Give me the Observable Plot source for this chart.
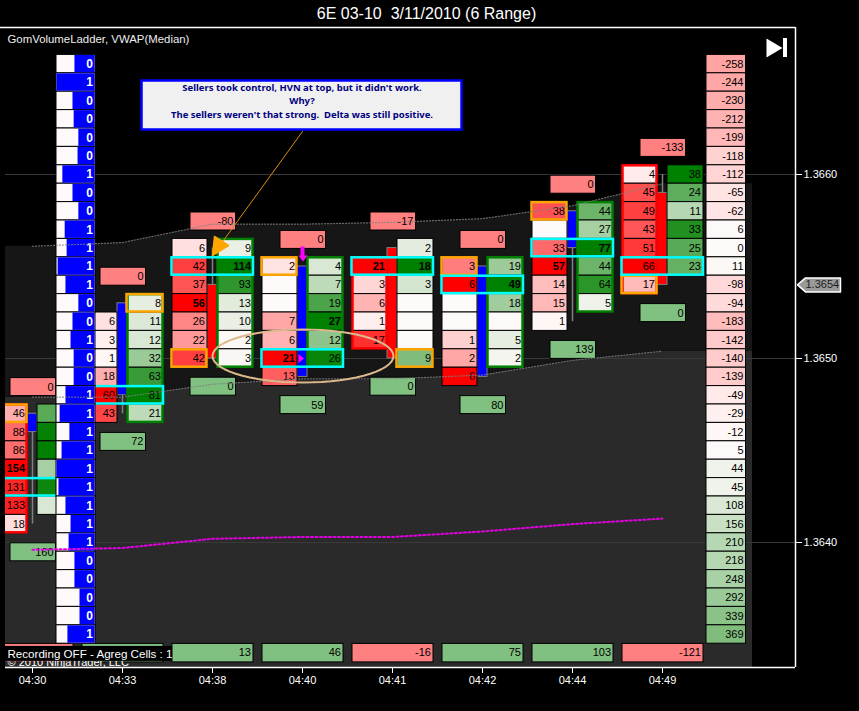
<!DOCTYPE html>
<html>
<head>
<meta charset="utf-8">
<style>html,body{margin:0;padding:0;background:#000;overflow:hidden}svg{display:block}</style>
<script src="https://cdn.jsdelivr.net/npm/d3@7"></script>
<script src="https://cdn.jsdelivr.net/npm/@observablehq/plot@0.6"></script>
</head>
<body>
<script>
const times = ["04:30","04:33","04:38","04:40","04:41","04:42","04:44","04:49"];
const priceTicks = [1.3660,1.3650,1.3640];
const lastPrice = 1.3654;

const bid0430 = [46,88,86,154,131,133,18];
const ask0430 = [65,98,100,35,95,15];
const bid0433 = [6,3,1,18,60,43];
const ask0433 = [8,11,12,32,63,81,21];
const bid0438 = [6,42,37,56,26,22,42];
const ask0438 = [9,114,93,13,10,2,3];
const bid0440 = [2,null,null,7,6,21,13];
const ask0440 = [4,7,19,27,12,26];
const bid0441 = [21,3,6,1,17];
const ask0441 = [2,18,3,null,null,null,9];
const bid0442 = [3,6,null,null,1,2,6];
const ask0442 = [19,49,18,null,5,2];
const bid0444 = [38,null,33,57,14,15,1];
const ask0444 = [44,27,77,44,64,5];
const bid0449 = [4,45,49,43,51,66,17];
const ask0449 = [38,24,11,33,25,23];

const bidTop = [1.3647,1.3652,1.3656,1.3655,1.3655,1.3655,1.3658,1.3660];
const askTop = [1.3647,1.3653,1.3656,1.3655,1.3656,1.3655,1.3658,1.3660];
const pocPrice = [1.3643,1.3648,1.3655,1.3650,1.3655,1.3654,1.3656,1.3655];
const closeMarked = [[0,"bid",1.3647],[1,"ask",1.3653],[2,"bid",1.3650],[3,"bid",1.3655],[4,"ask",1.3650],[5,"bid",1.3655],[6,"bid",1.3658],[7,"bid",1.3654]];
const greenColumns = [1,2,3,5,6];
const redColumns = [0,4,7];
const boldCells = ["0b154","2b56","2a114","3b21","3a27","4b21","4a18","5a49","6a77","6b57"];

const barOpen  = [1.3646,1.3648,1.3654,1.3649,1.3656,1.3649,1.3656,1.3659];
const barClose = [1.3647,1.3653,1.3650,1.3655,1.3650,1.3655,1.3658,1.3654];
const barHigh  = [1.3647,1.3653,1.3656,1.3655,1.3656,1.3655,1.3658,1.3660];
const barLow   = [1.3641,1.3647,1.3650,1.3649,1.3650,1.3649,1.3652,1.3654];

const deltaAbove = [0,0,-80,0,-17,0,0,-133];
const deltaBelow = [160,72,0,59,0,80,139,0];
const deltaBar   = [-27,40,13,46,-16,75,103,-121];

const ladderCount = [0,1,0,0,0,0,1,0,0,1,1,1,1,0,0,1,0,0,1,1,1,1,1,1,1,1,1,0,0,0,0,1];
const ladderWhiteShare = [46,0,41,44,56,54,15,41,56,21,26,3,23,56,41,36,44,44,23,8,33,13,0,5,23,36,31,46,46,59,59,28];
const ladderDelta = [-258,-244,-230,-212,-199,-118,-112,-65,-62,6,0,11,-98,-94,-183,-142,-140,-139,-49,-29,-12,5,44,45,108,156,210,218,248,292,339,369];
const ladderTop = 1.3666;

const bandUpper = [1.36561,1.36563,1.36573,1.36573,1.36574,1.36576,1.36583,1.36595];
const bandLower = [1.36479,1.36479,1.36486,1.36489,1.36489,1.36491,1.36499,1.36504];
const vwap      = [1.36396,1.36397,1.36402,1.36403,1.36403,1.36406,1.36410,1.36413];

const noteLines = ["Sellers took control, HVN at top, but it didn't work.","Why?","The sellers weren't that strong.  Delta was still positive."];

// scale helpers: offsets in screen pixels relative to a bar slot or a price level
const tick = 0.0001, pxX = 1/90, pxY = 1/184000;
const at = (i, off=0) => i + off*pxX;
const py = (p, off=0) => p - off*pxY;
const xLeft = at(0,-27), xRight = at(8,43), yTop = py(1.366,-147), yBottom = py(1.366,493);
const font = "'Liberation Sans'";
const bidLists = [bid0430,bid0433,bid0438,bid0440,bid0441,bid0442,bid0444,bid0449];
const askLists = [ask0430,ask0433,ask0438,ask0440,ask0441,ask0442,ask0444,ask0449];
const bars = d3.range(8);
const toRed = d3.interpolateRgb("#fffafa","#ff0000");
const toGreen = d3.interpolateRgb("#fffafa","#008000");
const sideX = {bid:[-40,-5],ask:[5,41]};

function column(i, side, list, top){
  const mx = d3.max(list);
  return list.map((v,k)=>({i,side,v,price:+(top-k*tick).toFixed(4),
    fill: v==null ? "#fffafa" : (side==="bid"?toRed:toGreen)(v/mx),
    bold: boldCells.includes(i+side[0]+v)}));
}
const cells = bars.flatMap(i=>[...column(i,"bid",bidLists[i],bidTop[i]),...column(i,"ask",askLists[i],askTop[i])]);
// the first bar's ask numbers lie hidden behind the left ladder, so they get no text
const valued = cells.filter(d=>d.v!=null && !(d.i===0 && d.side==="ask"));

const cellRect = (data,opts)=>Plot.rect(data,{
  x1:d=>at(d.i,sideX[d.side][0]), x2:d=>at(d.i,sideX[d.side][1]),
  y1:d=>d.price+tick/2, y2:d=>d.price-tick/2, clip:"frame", ...opts});
const colFrame = (list,side,stroke)=>Plot.rect(list,{
  x1:i=>at(i,sideX[side][0]), x2:i=>at(i,sideX[side][1]),
  y1:i=>(side==="ask"?askTop:bidTop)[i]+tick/2,
  y2:i=>(side==="ask"?askTop:bidTop)[i]-(((side==="ask"?askLists:bidLists)[i].length)-0.5)*tick,
  fill:"none",stroke,strokeWidth:2.5,inset:0.5,clip:"frame"});
const deltaColor = v=>v<0?"#ff8080":"#80c080";
const barTop = i=>Math.max(bidTop[i],askTop[i]);
const barBottom = i=>Math.min(bidTop[i]-(bidLists[i].length-1)*tick,askTop[i]-(askLists[i].length-1)*tick);
const aboveY = i=>py(barTop(i),-26.6), belowY = i=>py(barBottom(i),28.2);
const ladderRows = ladderDelta.map((v,k)=>({k,v,price:ladderTop-k*tick,count:ladderCount[k],white:ladderWhiteShare[k],
  fill:(v<0?toRed:toGreen)(Math.abs(v)/738)}));
const rowBox = (data,x1,x2,fill,extra={})=>Plot.rect(data,{x1,x2,y1:d=>d.price+tick/2,y2:d=>d.price-tick/2,fill,...extra});

const poly = (pts,opts)=>Plot.line([...pts,pts[0]],{x:"0",y:"1",...opts});
const ellipsePts = d3.range(0,366,6).map(a=>[at(3,0.5)+90.5*pxX*Math.cos(a*Math.PI/180), py(1.365,-2.5)+26.5*pxY*Math.sin(a*Math.PI/180)]);
const bandRows = [{x:xLeft,u:bandUpper[0],l:bandLower[0]},...bars.map(i=>({x:i,u:bandUpper[i],l:bandLower[i]})),{x:at(8,0),u:bandUpper[7],l:bandLower[7]}];
const txt = (arr,opts)=>Plot.text(arr,{fontFamily:font,fontSize:11,fill:"#000",...opts});

const chart = Plot.plot({
  width:859,height:711,marginLeft:5,marginRight:64,marginTop:27,marginBottom:44,
  x:{type:"linear",domain:[xLeft,xRight]},
  y:{type:"linear",domain:[yBottom,yTop]},
  color:{type:"identity"},
  style:{background:"#000",fontFamily:font,fontSize:"11px",whiteSpace:"pre",overflow:"visible"},
  marks:[
    // backdrop bands
    Plot.area(bandRows,{x1:"x",y1:"l",y2:()=>yBottom,fill:"#2a2a2a"}),
    Plot.area(bandRows,{x1:"x",y1:"u",y2:"l",fill:"#161616"}),
    Plot.ruleY(priceTicks,{stroke:"#3a3a3a",strokeWidth:1}),
    // candles
    Plot.ruleX(bars,{x:i=>i,y1:i=>barHigh[i],y2:i=>barLow[i],stroke:"#808080",strokeWidth:1.5}),
    Plot.rect(bars,{x1:i=>at(i,-5),x2:i=>at(i,5),y1:i=>barOpen[i],y2:i=>barClose[i],
      fill:i=>barClose[i]>barOpen[i]?"#0000ff":"#ff0000",stroke:"#808080",strokeWidth:1}),
    // footprint cells
    cellRect(cells,{fill:"fill",stroke:"#000",strokeWidth:1}),
    colFrame(greenColumns,"ask","#008000"),
    colFrame(redColumns,"bid","#ff0000"),
    txt(valued.filter(d=>!d.bold),{x:d=>at(d.i,d.side==="bid"?-7.5:38.5),y:"price",text:"v",textAnchor:"end"}),
    txt(valued.filter(d=>d.bold),{x:d=>at(d.i,d.side==="bid"?-7.5:38.5),y:"price",text:"v",textAnchor:"end",fontWeight:"bold"}),
    Plot.rect(closeMarked,{x1:d=>at(d[0],sideX[d[1]][0]-1),x2:d=>at(d[0],sideX[d[1]][1]),y1:d=>d[2]+tick/2,y2:d=>d[2]-tick/2,
      fill:"none",stroke:"#ffa500",strokeWidth:2.5,inset:0.5,clip:"frame"}),
    Plot.rect(bars,{x1:i=>at(i,-41),x2:i=>at(i,41.5),y1:i=>pocPrice[i]+tick/2,y2:i=>pocPrice[i]-tick/2,
      fill:"none",stroke:"#00ffff",strokeWidth:2.5,inset:0.5,clip:"frame"}),
    // delta boxes above and below
    Plot.rect(bars,{x1:i=>at(i,-22),x2:i=>at(i,23.5),y1:i=>py(aboveY(i),-9),y2:i=>py(aboveY(i),9),fill:"#ff8080",stroke:"#000"}),
    txt(bars,{x:i=>at(i,21),y:aboveY,text:i=>deltaAbove[i],textAnchor:"end"}),
    Plot.rect(bars,{x1:i=>at(i,-22),x2:i=>at(i,23.5),y1:i=>py(belowY(i),-9),y2:i=>py(belowY(i),9),fill:"#80c080",stroke:"#000"}),
    txt(bars,{x:i=>at(i,21),y:belowY,text:i=>deltaBelow[i],textAnchor:"end"}),
    Plot.rect(bars,{x1:i=>at(i,-40),x2:i=>at(i,41),y1:()=>py(1.3634,-9),y2:()=>py(1.3634,9.5),fill:i=>deltaColor(deltaBar[i]),stroke:"#000",clip:"frame"}),
    // the first two bars' numbers here lie hidden behind the status label
    txt(bars.slice(2),{x:i=>at(i,38.5),y:()=>1.3634,text:i=>deltaBar[i],textAnchor:"end"}),
    // left ladder
    rowBox(ladderRows,()=>at(0,24),()=>at(0,63),"#fffafa",{stroke:"#000"}),
    rowBox(ladderRows,d=>at(0,24+0.39*d.white),()=>at(0,63),"#0000ff",{inset:0.5}),
    txt(ladderRows,{x:()=>at(0,60.5),y:"price",text:"count",textAnchor:"end",fill:"#fff",fontWeight:"bold",fontSize:12}),
    // right ladder
    rowBox(ladderRows,()=>at(8,-46),()=>at(8,-6.5),"fill",{stroke:"#000"}),
    txt(ladderRows,{x:()=>at(8,-9),y:"price",text:"v",textAnchor:"end"}),
    // VWAP lines
    Plot.line(bars,{x:i=>i,y:i=>bandUpper[i],stroke:"#808080",strokeOpacity:0.8,strokeWidth:1.2,strokeDasharray:"1,2"}),
    Plot.line(bars,{x:i=>i,y:i=>bandLower[i],stroke:"#808080",strokeOpacity:0.8,strokeWidth:1.2,strokeDasharray:"1,2"}),
    Plot.line(bars,{x:i=>i,y:i=>vwap[i],stroke:"#e000e0",strokeWidth:2,strokeDasharray:"2,2.5"}),
    // annotations
    Plot.line([[at(3,0),py(1.366,-43)],[at(2,11),py(1.366,66)]],{x:"0",y:"1",stroke:"#d98f0f",strokeWidth:1}),
    poly([[at(2,2),py(1.366,62)],[at(2,16),py(1.366,71)],[at(2,0),py(1.366,81)]],{fill:"#ffa500",stroke:"#ffa500"}),
    Plot.line(ellipsePts,{x:"0",y:"1",stroke:"#dcb98c",strokeWidth:2}),
    poly([[at(3,-2),py(1.366,72)],[at(3,2),py(1.366,72)],[at(3,2),py(1.366,81)],[at(3,5),py(1.366,81)],[at(3,0.5),py(1.366,87)],[at(3,-4),py(1.366,81)],[at(3,-2),py(1.366,81)]],{fill:"#ff00ff",stroke:"none"}),
    poly([[at(3,-4),py(1.365,-4.5)],[at(3,1.5),py(1.365,0)],[at(3,-4),py(1.365,4.5)]],{fill:"#ff00ff",stroke:"none"}),
    // note
    Plot.rect([0],{x1:at(1,19.5),x2:at(4,69.5),y1:py(1.366,-93.5),y2:py(1.366,-44.5),fill:"#f0f0f0",stroke:"#0000ff",strokeWidth:2.5}),
    Plot.text(noteLines,{x:at(3,-0.5),y:(d,k)=>py(1.366,[-87,-73.5,-60][k]),fontFamily:"'Noto Sans'",fontWeight:"bold",fontSize:9.5,fill:"#000080"}),
    // footer labels
    Plot.text(["© 2010 NinjaTrader, LLC"],{x:at(0,-25),y:py(1.3634,10),textAnchor:"start",fill:"#fff",fontFamily:font,fontSize:11}),
    Plot.rect([0],{x1:at(0,-27),x2:at(1,50),y1:py(1.3634,-6.5),y2:py(1.3634,8.5),fill:"#000"}),
    Plot.text(["Recording OFF - Agreg Cells : 1"],{x:at(0,-25),y:py(1.3634,1),textAnchor:"start",fill:"#fff",fontFamily:font,fontSize:11.6}),
    // frame and header
    Plot.ruleY([yTop],{x1:at(0,-32),x2:xRight,stroke:"#fff",strokeWidth:1.5}),
    Plot.ruleY([yBottom],{x1:xLeft,x2:xRight,stroke:"#fff",strokeWidth:1.5}),
    Plot.ruleX([xRight],{y1:yBottom,y2:yTop,stroke:"#fff",strokeWidth:1.5}),
    Plot.axisX(bars,{anchor:"bottom",tickSize:6,tickPadding:3,color:"#fff",fontSize:11,label:null,tickFormat:i=>times[i]}),
    Plot.axisY(priceTicks,{anchor:"right",tickSize:6,tickPadding:2,color:"#fff",fontSize:11,label:null,tickFormat:d=>d.toFixed(4)}),
    Plot.text(["6E 03-10  3/11/2010 (6 Range)"],{x:at(4,34),y:py(1.366,-161),fill:"#fff",fontFamily:font,fontSize:16}),
    Plot.text(["GomVolumeLadder, VWAP(Median)"],{x:at(0,-25),y:py(1.366,-135),textAnchor:"start",fill:"#eee",fontFamily:font,fontSize:11.4}),
    poly([[at(8,14),py(1.366,-136)],[at(8,30),py(1.366,-126.5)],[at(8,14),py(1.366,-117)]],{fill:"#fff",stroke:"none"}),
    Plot.rect([0],{x1:at(8,31),x2:at(8,35),y1:py(1.366,-136),y2:py(1.366,-117),fill:"#fff"}),
    poly([[at(8,45),py(lastPrice)],[at(8,53),py(lastPrice,-7)],[at(8,88),py(lastPrice,-7)],[at(8,88),py(lastPrice,7)],[at(8,53),py(lastPrice,7)]],{fill:"#999",stroke:"#fff",strokeWidth:1.5}),
    Plot.text([lastPrice.toFixed(4)],{x:at(8,53),y:py(lastPrice),textAnchor:"start",fill:"#222",fontFamily:font,fontSize:11})
  ]
});
document.body.appendChild(chart);
</script>
</body>
</html>
